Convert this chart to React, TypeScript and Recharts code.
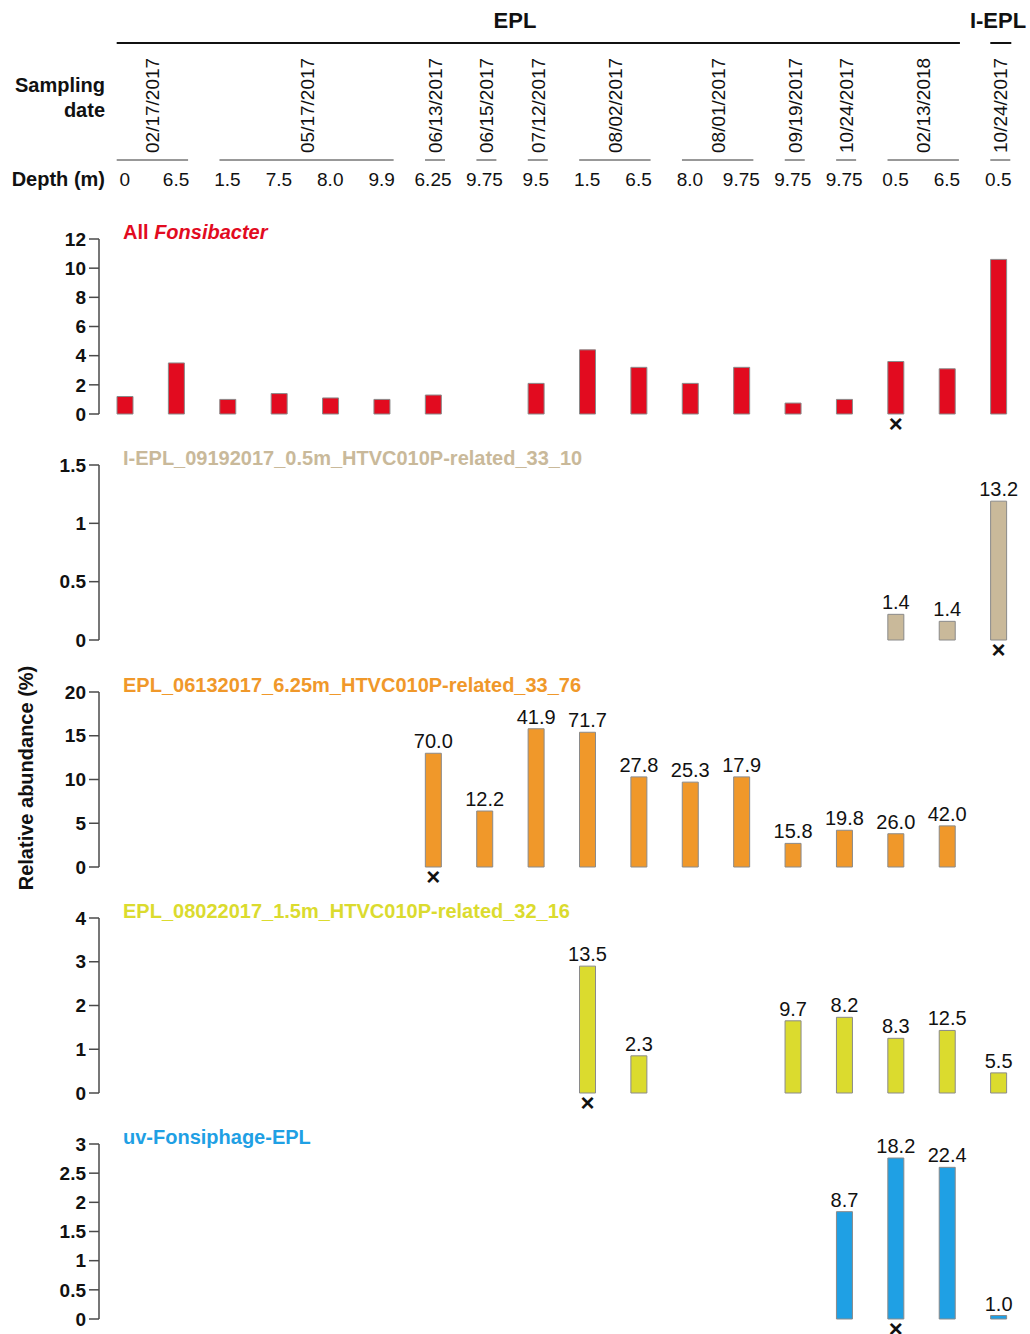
import React from "react";
import { BarChart, Bar, XAxis, YAxis, LabelList } from "recharts";

const FONT = "'Liberation Sans', Arial, Helvetica, sans-serif";

// one entry per sample column, left to right
const depths = ["0", "6.5", "1.5", "7.5", "8.0", "9.9", "6.25", "9.75", "9.5", "1.5", "6.5", "8.0", "9.75", "9.75", "9.75", "0.5", "6.5", "0.5"];

const dateGroups = [
  { date: "02/17/2017", first: 0, last: 1 },
  { date: "05/17/2017", first: 2, last: 5 },
  { date: "06/13/2017", first: 6, last: 6 },
  { date: "06/15/2017", first: 7, last: 7 },
  { date: "07/12/2017", first: 8, last: 8 },
  { date: "08/02/2017", first: 9, last: 10 },
  { date: "08/01/2017", first: 11, last: 12 },
  { date: "09/19/2017", first: 13, last: 13 },
  { date: "10/24/2017", first: 14, last: 14 },
  { date: "02/13/2018", first: 15, last: 16 },
  { date: "10/24/2017", first: 17, last: 17 },
];

const lakes = [
  { name: "EPL", first: 0, last: 16 },
  { name: "I-EPL", first: 17, last: 17 },
];

// relative abundance (%) per column, null = not detected
const fonsibacter = [1.2, 3.5, 1.0, 1.4, 1.1, 1.0, 1.3, null, 2.1, 4.4, 3.2, 2.1, 3.2, 0.75, 1.0, 3.6, 3.1, 10.6];
const iepl3310 = [null, null, null, null, null, null, null, null, null, null, null, null, null, null, null, 0.22, 0.16, 1.19];
const epl3376 = [null, null, null, null, null, null, 13.0, 6.4, 15.8, 15.4, 10.3, 9.7, 10.3, 2.7, 4.2, 3.8, 4.7, null];
const epl3216 = [null, null, null, null, null, null, null, null, null, 2.9, 0.85, null, null, 1.65, 1.73, 1.25, 1.43, 0.46];
const fonsiphage = [null, null, null, null, null, null, null, null, null, null, null, null, null, null, 1.84, 2.76, 2.6, 0.06];

// numbers printed above bars
const iepl3310Labels = [null, null, null, null, null, null, null, null, null, null, null, null, null, null, null, "1.4", "1.4", "13.2"];
const epl3376Labels = [null, null, null, null, null, null, "70.0", "12.2", "41.9", "71.7", "27.8", "25.3", "17.9", "15.8", "19.8", "26.0", "42.0", null];
const epl3216Labels = [null, null, null, null, null, null, null, null, null, "13.5", "2.3", null, null, "9.7", "8.2", "8.3", "12.5", "5.5"];
const fonsiphageLabels = [null, null, null, null, null, null, null, null, null, null, null, null, null, null, "8.7", "18.2", "22.4", "1.0"];

// sample the genome came from
const fonsibacterCross = [15];
const iepl3310Cross = [17];
const epl3376Cross = [6];
const epl3216Cross = [9];
const fonsiphageCross = [15];

const PLOT_LEFT = 99;
const PLOT_RIGHT = 1024;
const BAND = (PLOT_RIGHT - PLOT_LEFT) / depths.length;
const PLOT_H = 175;
const MT = 40;
const MB = 28;
const colX = (i: number) => PLOT_LEFT + BAND * (i + 0.5);

const panels = [
  { title: "fons", values: fonsibacter, labels: null, cross: fonsibacterCross, color: "#E20B1F", titleColor: "#E20B1F", max: 12, ticks: [0, 2, 4, 6, 8, 10, 12], top: 239 },
  { title: "I-EPL_09192017_0.5m_HTVC010P-related_33_10", values: iepl3310, labels: iepl3310Labels, cross: iepl3310Cross, color: "#C9B99A", titleColor: "#C9B99A", max: 1.5, ticks: [0, 0.5, 1, 1.5], top: 465 },
  { title: "EPL_06132017_6.25m_HTVC010P-related_33_76", values: epl3376, labels: epl3376Labels, cross: epl3376Cross, color: "#F0982A", titleColor: "#F0982A", max: 20, ticks: [0, 5, 10, 15, 20], top: 692 },
  { title: "EPL_08022017_1.5m_HTVC010P-related_32_16", values: epl3216, labels: epl3216Labels, cross: epl3216Cross, color: "#DBDB2E", titleColor: "#DBDB2E", max: 4, ticks: [0, 1, 2, 3, 4], top: 918 },
  { title: "uv-Fonsiphage-EPL", values: fonsiphage, labels: fonsiphageLabels, cross: fonsiphageCross, color: "#1FA0E4", titleColor: "#1FA0E4", max: 3, ticks: [0, 0.5, 1, 1.5, 2, 2.5, 3], top: 1144 },
];

const renderCross = (props: any) => {
  const vb = props.viewBox || props;
  if (!props.value) return null;
  return (
    <text x={vb.x + vb.width / 2} y={vb.y + vb.height + 18} textAnchor="middle" fontSize={24} fontWeight="bold" fill="#111" fontFamily={FONT}>
      ×
    </text>
  );
};

function Panel({ p }: { p: any }) {
  const data = depths.map((d, i) => ({
    id: `s${i}`,
    v: p.values[i],
    lab: p.labels ? p.labels[i] : null,
    cross: p.cross.includes(i) ? "x" : null,
  }));
  return (
    <div style={{ position: "absolute", left: 0, top: p.top - MT }}>
      <BarChart width={1030} height={MT + PLOT_H + MB} data={data} margin={{ top: MT, right: 1030 - PLOT_RIGHT, bottom: MB, left: PLOT_LEFT - 60 }}>
        <XAxis dataKey="id" hide />
        <YAxis
          width={60}
          domain={[0, p.max]}
          ticks={p.ticks}
          interval={0}
          tickSize={10}
          tickMargin={3}
          stroke="#4a4a4a"
          strokeWidth={1.5}
          tick={{ fill: "#111", fontSize: 19, fontWeight: "bold", fontFamily: FONT }}
        />
        <Bar dataKey="v" fill={p.color} stroke="#8a8a8a" strokeWidth={1} barSize={16} isAnimationActive={false}>
          {p.labels && (
            <LabelList dataKey="lab" position="top" offset={5} fill="#111" fontSize={20} fontFamily={FONT} />
          )}
          <LabelList dataKey="cross" content={renderCross} />
        </Bar>
      </BarChart>
    </div>
  );
}

function Header() {
  return (
    <svg width={1030} height={1334} style={{ position: "absolute", left: 0, top: 0, pointerEvents: "none" }} fontFamily={FONT}>
      <text x={515} y={28} textAnchor="middle" fontSize={22} fontWeight="bold" fill="#111">EPL</text>
      <text x={998} y={28} textAnchor="middle" fontSize={22} fontWeight="bold" fill="#111">I-EPL</text>
      {lakes.map((l) => (
        <line key={l.name} x1={colX(l.first) - 8} x2={colX(l.last) + 13} y1={43} y2={43} stroke="#111" strokeWidth={2} />
      ))}
      <text x={105} y={92} textAnchor="end" fontSize={20} fontWeight="bold" fill="#111">Sampling</text>
      <text x={105} y={117} textAnchor="end" fontSize={20} fontWeight="bold" fill="#111">date</text>
      <text x={105} y={186} textAnchor="end" fontSize={20} fontWeight="bold" fill="#111">Depth (m)</text>
      {dateGroups.map((g, k) => {
        const x1 = colX(g.first) - 8;
        const x2 = colX(g.last) + 12;
        const cx = (x1 + x2) / 2;
        return (
          <g key={k}>
            <text transform={`translate(${cx + 7},153) rotate(-90)`} fontSize={19} fill="#111">
              {g.date}
            </text>
            <line x1={x1} x2={x2} y1={160} y2={160} stroke="#333" strokeWidth={1} />
          </g>
        );
      })}
      {depths.map((d, i) => (
        <text key={i} x={colX(i)} y={186} textAnchor="middle" fontSize={19} fill="#111">
          {d}
        </text>
      ))}
      {panels.map((p, k) => (
        <text key={k} x={123} y={p.top} fontSize={20} fontWeight="bold" fill={p.titleColor}>
          {p.title === "fons" ? (
            <>
              All <tspan fontStyle="italic">Fonsibacter</tspan>
            </>
          ) : (
            p.title
          )}
        </text>
      ))}
      <text transform="translate(33,778) rotate(-90)" textAnchor="middle" fontSize={20} fontWeight="bold" fill="#111">
        Relative abundance (%)
      </text>
    </svg>
  );
}

export default function App() {
  return (
    <div style={{ position: "absolute", left: 0, top: 0, width: 1030, height: 1334, background: "#fff", fontFamily: FONT }}>
      {panels.map((p, k) => (
        <Panel key={k} p={p} />
      ))}
      <Header />
    </div>
  );
}
